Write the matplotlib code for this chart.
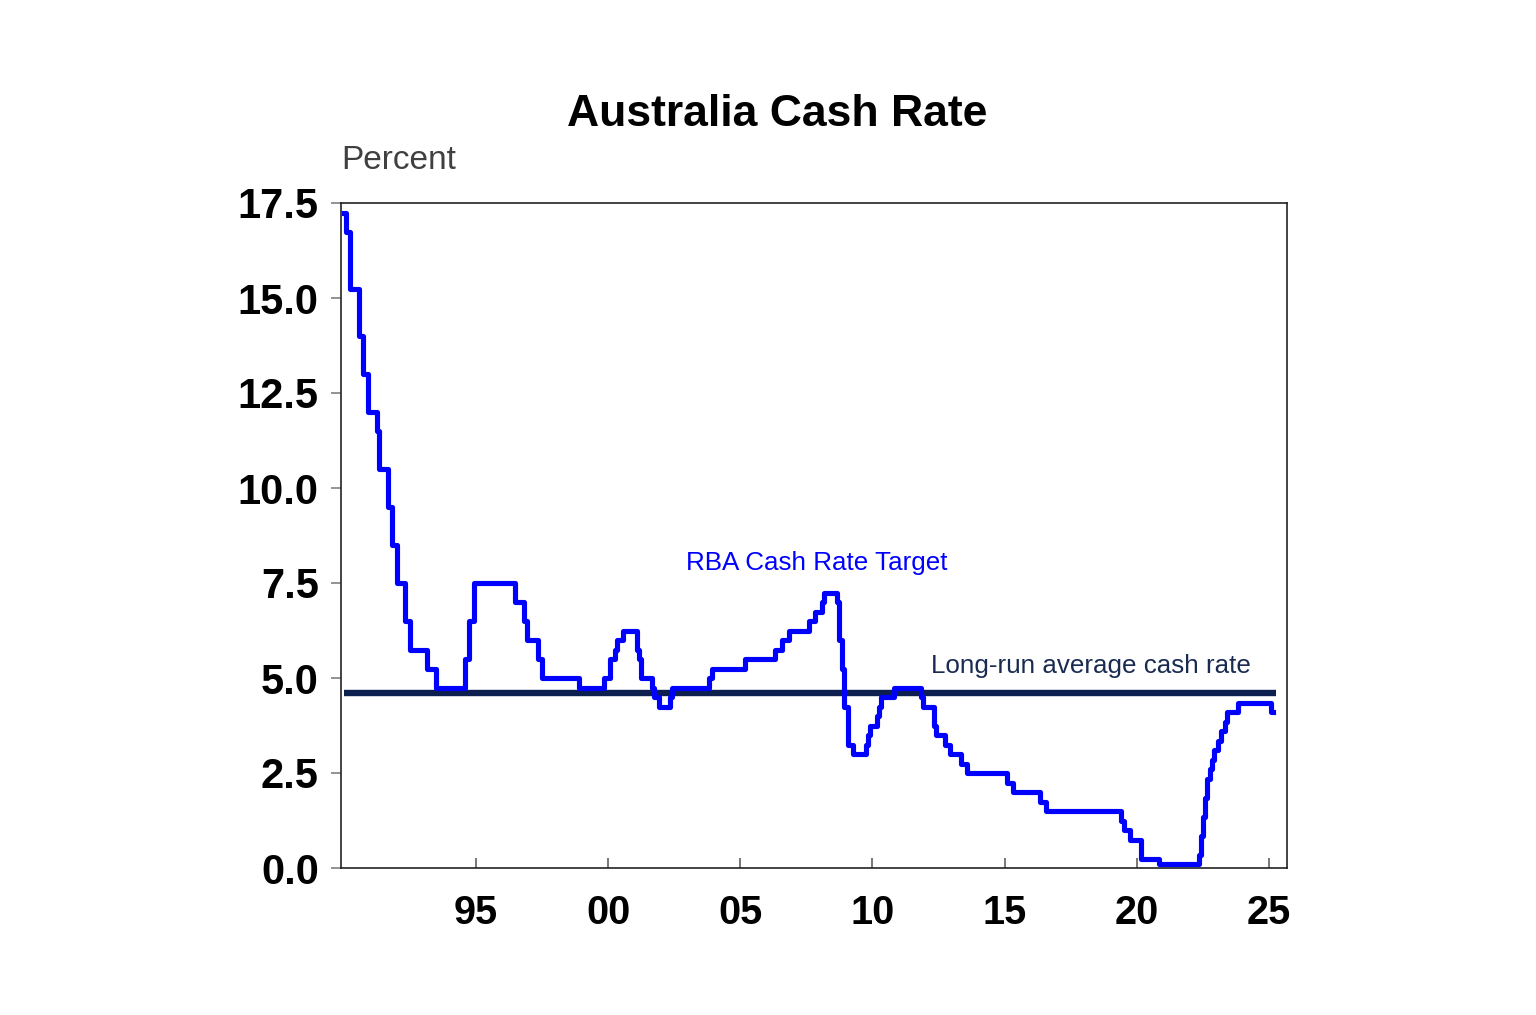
import matplotlib
matplotlib.use("Agg")
import matplotlib.pyplot as plt
import numpy as np

# RBA cash rate target, change months and new level (percent)
change_months = ["1990-01", "1990-02", "1990-04", "1990-08", "1990-10", "1990-12",
                 "1991-04", "1991-05", "1991-09", "1991-11", "1992-01", "1992-05",
                 "1992-07", "1993-03", "1993-07", "1994-08", "1994-10", "1994-12",
                 "1996-07", "1996-11", "1996-12", "1997-05", "1997-07", "1998-12",
                 "1999-11", "2000-02", "2000-04", "2000-05", "2000-08", "2001-02",
                 "2001-03", "2001-04", "2001-09", "2001-10", "2001-12", "2002-05",
                 "2002-06", "2003-11", "2003-12", "2005-03", "2006-05", "2006-08",
                 "2006-11", "2007-08", "2007-11", "2008-02", "2008-03", "2008-09",
                 "2008-10", "2008-11", "2008-12", "2009-02", "2009-04", "2009-10",
                 "2009-11", "2009-12", "2010-03", "2010-04", "2010-05", "2010-11",
                 "2011-11", "2011-12", "2012-05", "2012-06", "2012-10", "2012-12",
                 "2013-05", "2013-08", "2015-02", "2015-05", "2016-05", "2016-08",
                 "2019-06", "2019-07", "2019-10", "2020-03", "2020-11", "2022-05",
                 "2022-06", "2022-07", "2022-08", "2022-09", "2022-10", "2022-11",
                 "2022-12", "2023-02", "2023-03", "2023-05", "2023-06", "2023-11",
                 "2025-02", "2025-03"]
cash_rate = [17.25, 16.75, 15.25, 14.0, 13.0, 12.0,
             11.5, 10.5, 9.5, 8.5, 7.5, 6.5,
             5.75, 5.25, 4.75, 5.5, 6.5, 7.5,
             7.0, 6.5, 6.0, 5.5, 5.0, 4.75,
             5.0, 5.5, 5.75, 6.0, 6.25, 5.75,
             5.5, 5.0, 4.75, 4.5, 4.25, 4.5,
             4.75, 5.0, 5.25, 5.5, 5.75, 6.0,
             6.25, 6.5, 6.75, 7.0, 7.25, 7.0,
             6.0, 5.25, 4.25, 3.25, 3.0, 3.25,
             3.5, 3.75, 4.0, 4.25, 4.5, 4.75,
             4.5, 4.25, 3.75, 3.5, 3.25, 3.0,
             2.75, 2.5, 2.25, 2.0, 1.75, 1.5,
             1.25, 1.0, 0.75, 0.25, 0.1, 0.35,
             0.85, 1.35, 1.85, 2.35, 2.6, 2.85,
             3.1, 3.35, 3.6, 3.85, 4.1, 4.35,
             4.1, 4.1]
long_run_avg = 4.6

year_ticks = [1995, 2000, 2005, 2010, 2015, 2020, 2025]
year_labels = ["95", "00", "05", "10", "15", "20", "25"]
y_ticks = [0.0, 2.5, 5.0, 7.5, 10.0, 12.5, 15.0, 17.5]

x = np.array([int(d[:4]) + (int(d[5:]) - 1) / 12 for d in change_months])

plt.rcParams['font.family'] = ['Liberation Sans', 'DejaVu Sans']

fig = plt.figure(figsize=(15.36, 10.15), dpi=100)
ax = fig.add_axes([341/1536, 1 - 868/1015, (1287-341)/1536, (868-203)/1015])

ax.hlines(long_run_avg, x[0], x[-1] + 0.08, color='#0c1f4f', lw=4.6, zorder=2)
ax.plot(x, cash_rate, drawstyle='steps-post', color='#0000ff', lw=3.7, zorder=3)

ax.set_xlim(1989.9, 2025.68)
ax.set_ylim(0, 17.5)
ax.set_xticks(year_ticks)
ax.set_xticklabels(year_labels)
ax.set_yticks(y_ticks)
ax.set_yticklabels([f"{v:.1f}" for v in y_ticks])

ax.tick_params(axis='x', direction='in', length=7, width=1.2, color='#606060',
               labelsize=28.5, pad=19)
ax.tick_params(axis='y', direction='out', length=7, width=1.2, color='#808080',
               labelsize=30, pad=9)
for lab in ax.get_xticklabels() + ax.get_yticklabels():
    lab.set_fontweight('bold')
for sp in ax.spines.values():
    sp.set_linewidth(1.2)
    sp.set_color('#222222')

ax.text(2007.9, 7.84, "RBA Cash Rate Target", color='#0000ff', fontsize=18.7,
        ha='center', va='baseline')
ax.text(2012.23, 5.13, "Long-run average cash rate", color='#1a2b52', fontsize=18.7,
        ha='left', va='baseline')

fig.text(777/1536, 1 - 126/1015, "Australia Cash Rate", fontsize=32,
         fontweight='bold', ha='center', va='baseline')
fig.text(341/1536, 1 - 169/1015, "Percent", fontsize=24, color='#404040',
         ha='left', va='baseline')

fig.savefig("out.png", dpi=100)
